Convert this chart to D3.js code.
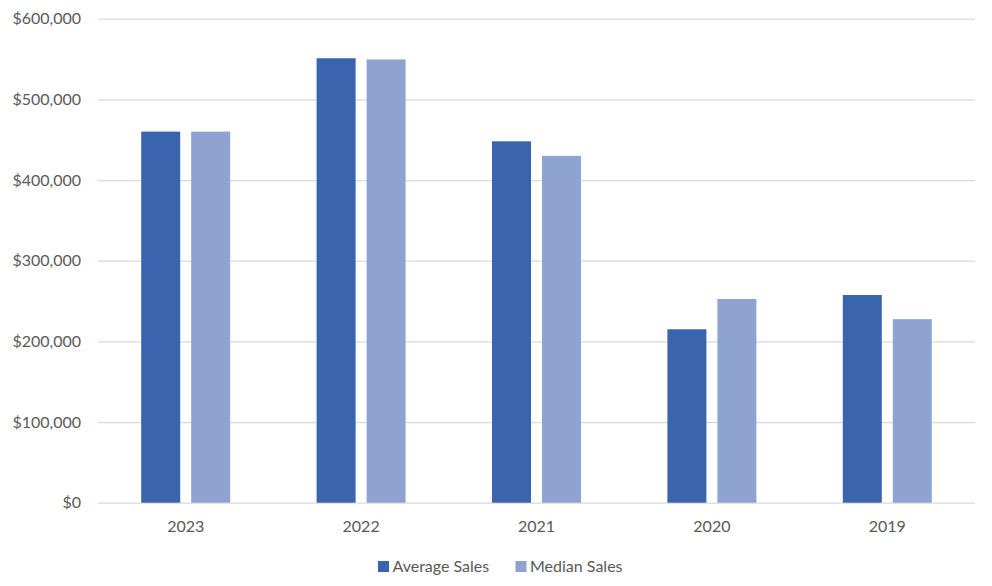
<!DOCTYPE html>
<html>
<head>
<meta charset="utf-8">
<script src="https://cdn.jsdelivr.net/npm/d3@7"></script>
<style>
  html, body { margin: 0; padding: 0; background: #ffffff; }
  svg { display: block; }
  text { font-family: Lato, "Open Sans", sans-serif; fill: #595959; }
</style>
</head>
<body>
<svg id="chart" width="992" height="586"></svg>
<script>
const categories = ["2023", "2022", "2021", "2020", "2019"];
const seriesNames = ["Average Sales", "Median Sales"];
const averageSales = [460000, 551000, 448000, 215000, 257500];
const medianSales = [460000, 549500, 430000, 252500, 227500];
const yTicks = [0, 100000, 200000, 300000, 400000, 500000, 600000];
const colors = ["#3A65AE", "#8FA3D3"];

const seriesValues = [averageSales, medianSales];

const svg = d3.select("#chart");
const margin = { left: 98, right: 17, top: 18.7, bottom: 83.3 };
const W = 992, H = 586;

const x0 = d3.scaleBand().domain(categories).range([margin.left, W - margin.right]).padding(0);
const x1 = d3.scaleBand().domain(seriesNames).range([-44.5, 44.5]).paddingInner(0.22);
const y = d3.scaleLinear().domain([0, 600000]).range([H - margin.bottom, margin.top]);

// gridlines
const yAxis = d3.axisLeft(y).tickValues(yTicks).tickSize(-(W - margin.left - margin.right))
  .tickFormat(d => "$" + d3.format(",")(d)).tickPadding(17);
const gy = svg.append("g").attr("transform", `translate(${margin.left},0)`).call(yAxis);
gy.select(".domain").remove();
gy.selectAll(".tick line").attr("stroke", "#D9D9D9").attr("stroke-width", 1.3);
gy.selectAll(".tick text").attr("font-size", 16).style("fill", "#595959");

// bars
const groups = svg.append("g").selectAll("g").data(categories).join("g")
  .attr("transform", d => `translate(${x0(d) + x0.bandwidth() / 2},0)`);
groups.selectAll("rect")
  .data((d, i) => seriesNames.map((s, k) => ({ s, k, v: seriesValues[k][i] })))
  .join("rect")
  .attr("x", d => x1(d.s))
  .attr("width", x1.bandwidth())
  .attr("y", d => y(d.v))
  .attr("height", d => y(0) - y(d.v))
  .attr("fill", d => colors[d.k]);

// x axis labels
const xAxis = d3.axisBottom(x0).tickSize(0).tickPadding(18);
const gx = svg.append("g").attr("transform", `translate(0,${y(0)})`).call(xAxis);
gx.select(".domain").remove();
gx.selectAll(".tick text").attr("font-size", 16).style("fill", "#595959");

// legend
const legendItems = [
  { name: seriesNames[0], color: colors[0], x: 378 },
  { name: seriesNames[1], color: colors[1], x: 515.5 }
];
const lg = svg.append("g");
legendItems.forEach(it => {
  lg.append("rect").attr("x", it.x).attr("y", 561).attr("width", 11).attr("height", 11).attr("fill", it.color);
  lg.append("text").attr("x", it.x + 14.5).attr("y", 566.5).attr("dy", "0.35em")
    .attr("font-size", 16).text(it.name);
});
</script>
</body>
</html>
